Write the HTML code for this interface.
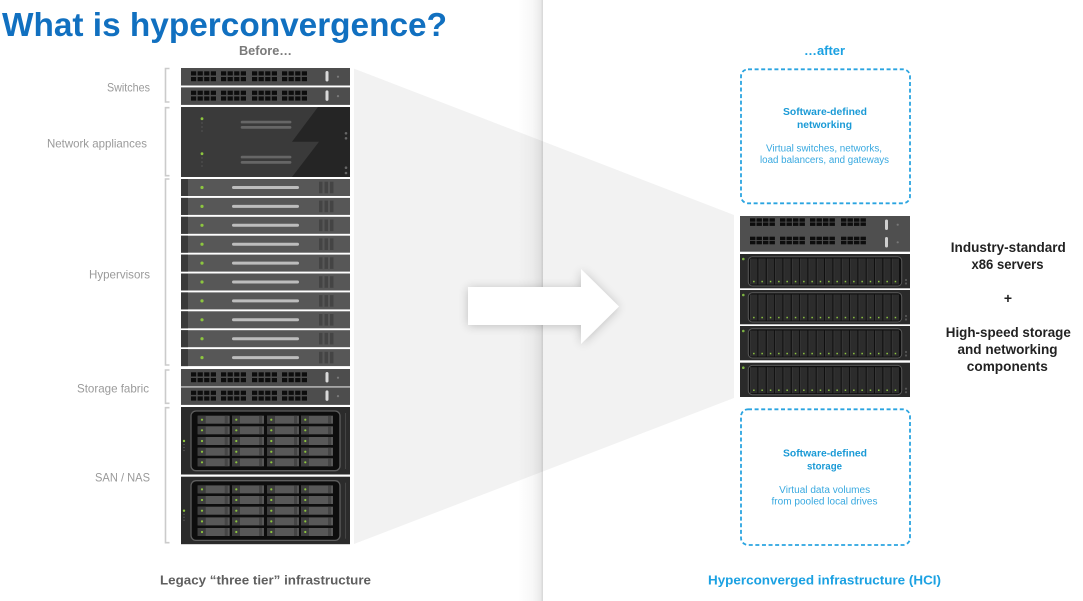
<!DOCTYPE html>
<html><head><meta charset="utf-8"><style>
html,body{margin:0;padding:0;background:#fff;}
body{width:1083px;height:601px;overflow:hidden;}
svg{display:block;font-family:"Liberation Sans",sans-serif;}
</style></head><body>
<svg width="1083" height="601" viewBox="0 0 1083 601" xmlns="http://www.w3.org/2000/svg">
<defs>
 <linearGradient id="sh" x1="0" x2="1" y1="0" y2="0">
  <stop offset="0" stop-color="#000" stop-opacity="0"/>
  <stop offset="0.6" stop-color="#000" stop-opacity="0.03"/>
  <stop offset="1" stop-color="#000" stop-opacity="0.1"/>
 </linearGradient>
 <filter id="ds" x="-30%" y="-30%" width="160%" height="160%">
  <feGaussianBlur in="SourceAlpha" stdDeviation="5"/>
  <feOffset dx="0" dy="1" result="b"/>
  <feComponentTransfer><feFuncA type="linear" slope="0.22"/></feComponentTransfer>
  <feMerge><feMergeNode/><feMergeNode in="SourceGraphic"/></feMerge>
 </filter>
 <g id="pg" fill="#0d0d0d">
  <rect x="0" y="0" width="5.2" height="4.2"/><rect x="6.6" y="0" width="5.2" height="4.2"/><rect x="13.2" y="0" width="5.2" height="4.2"/><rect x="19.8" y="0" width="5.2" height="4.2"/>
  <rect x="0" y="5.7" width="5.2" height="4.2"/><rect x="6.6" y="5.7" width="5.2" height="4.2"/><rect x="13.2" y="5.7" width="5.2" height="4.2"/><rect x="19.8" y="5.7" width="5.2" height="4.2"/>
 </g>
 <g id="pgR" fill="#0d0d0d">
  <rect x="0" y="0" width="5.4" height="3.4"/><rect x="6.5" y="0" width="5.4" height="3.4"/><rect x="13" y="0" width="5.4" height="3.4"/><rect x="19.5" y="0" width="5.4" height="3.4"/>
  <rect x="0" y="4.2" width="5.4" height="3.4"/><rect x="6.5" y="4.2" width="5.4" height="3.4"/><rect x="13" y="4.2" width="5.4" height="3.4"/><rect x="19.5" y="4.2" width="5.4" height="3.4"/>
 </g>
 <g id="swL">
  <rect width="169" height="17.5" fill="#4d4d4d"/>
  <use href="#pg" x="10" y="3.3"/><use href="#pg" x="40" y="3.3"/><use href="#pg" x="71" y="3.3"/><use href="#pg" x="101" y="3.3"/>
  <rect x="144.5" y="3" width="3" height="10.5" rx="1.5" fill="#d9d9d9"/>
  <circle cx="157" cy="8.7" r="1.1" fill="#7a7a7a"/>
 </g>
 <g id="hv">
  <rect width="169" height="17" fill="#575757"/>
  <rect width="7" height="17" fill="#3a3a3a"/>
  <circle cx="21" cy="8.5" r="1.6" fill="#8dc63f"/>
  <rect x="51" y="7" width="67" height="3" rx="1.5" fill="#bdbdbd"/>
  <rect x="138" y="2.7" width="3.5" height="11.6" fill="#444"/>
  <rect x="143.5" y="2.7" width="3.5" height="11.6" fill="#444"/>
  <rect x="149" y="2.7" width="3.5" height="11.6" fill="#444"/>
 </g>
 <g id="bay">
  <rect width="32" height="8" fill="#585858"/>
  <rect width="8" height="8" fill="#3e3e3e"/>
  <circle cx="4.3" cy="4" r="1.1" fill="#8dc63f"/>
  <rect x="27" width="3" height="8" fill="#454545"/>
 </g>
 <g id="san">
  <rect width="169" height="67.5" fill="#2b2b2b"/>
  <rect x="10" y="4" width="149" height="59.7" rx="5" fill="#0d0d0d" stroke="#5e5e5e" stroke-width="1.3"/>
  <circle cx="3" cy="34" r="1.2" fill="#8dc63f"/>
  <circle cx="3" cy="37.5" r="0.6" fill="#666"/><circle cx="3" cy="40.5" r="0.6" fill="#666"/><circle cx="3" cy="43.5" r="0.6" fill="#666"/>
  <rect x="164" y="6" width="1" height="56" fill="#444"/>
  <use href="#bay" x="16.7" y="8.7"/><use href="#bay" x="51" y="8.7"/><use href="#bay" x="86" y="8.7"/><use href="#bay" x="120" y="8.7"/>
  <use href="#bay" x="16.7" y="19.3"/><use href="#bay" x="51" y="19.3"/><use href="#bay" x="86" y="19.3"/><use href="#bay" x="120" y="19.3"/>
  <use href="#bay" x="16.7" y="30"/><use href="#bay" x="51" y="30"/><use href="#bay" x="86" y="30"/><use href="#bay" x="120" y="30"/>
  <use href="#bay" x="16.7" y="40.7"/><use href="#bay" x="51" y="40.7"/><use href="#bay" x="86" y="40.7"/><use href="#bay" x="120" y="40.7"/>
  <use href="#bay" x="16.7" y="51.3"/><use href="#bay" x="51" y="51.3"/><use href="#bay" x="86" y="51.3"/><use href="#bay" x="120" y="51.3"/>
 </g>
 <g id="slot">
  <rect width="7.2" height="26" fill="#2c2c2c"/>
  <rect x="0" y="0" width="0.8" height="26" fill="#3a3a3a"/>
  <rect x="2.9" y="22.3" width="1.5" height="1.5" fill="#8dc63f"/>
 </g>
 <g id="stor">
  <rect width="170" height="34.3" fill="#2a2a2a"/>
  <circle cx="3.3" cy="5" r="1.3" fill="#7cb342"/>
  <rect x="8.3" y="2.7" width="153.4" height="29.3" rx="4" fill="#0f0f0f" stroke="#5a5a5a" stroke-width="1"/>
  <use href="#slot" x="10.2" y="4.5"/><use href="#slot" x="18.5" y="4.5"/><use href="#slot" x="26.9" y="4.5"/><use href="#slot" x="35.2" y="4.5"/>
  <use href="#slot" x="43.5" y="4.5"/><use href="#slot" x="51.9" y="4.5"/><use href="#slot" x="60.2" y="4.5"/><use href="#slot" x="68.5" y="4.5"/>
  <use href="#slot" x="76.8" y="4.5"/><use href="#slot" x="85.2" y="4.5"/><use href="#slot" x="93.5" y="4.5"/><use href="#slot" x="101.8" y="4.5"/>
  <use href="#slot" x="110.2" y="4.5"/><use href="#slot" x="118.5" y="4.5"/><use href="#slot" x="126.8" y="4.5"/><use href="#slot" x="135.1" y="4.5"/>
  <use href="#slot" x="143.5" y="4.5"/><use href="#slot" x="151.8" y="4.5"/>
  <circle cx="166" cy="26" r="1.1" fill="#555"/><circle cx="166" cy="29.5" r="1.1" fill="#555"/>
 </g>
</defs>

<!-- gray trapezoid -->
<polygon points="354,68.6 734,215 734,398 354,544" fill="#f2f2f2"/>

<!-- divider shadow -->
<rect x="518" y="0" width="25" height="601" fill="url(#sh)"/>
<rect x="541.5" y="0" width="1.5" height="601" fill="#000" fill-opacity="0.05"/>

<!-- arrow -->
<polygon points="468,287 581,287 581,269 619,306.5 581,344 581,325 468,325" fill="#fff" filter="url(#ds)"/>

<!-- Title -->
<text x="2" y="36" font-size="33" font-weight="bold" fill="#1170c0" textLength="445" lengthAdjust="spacingAndGlyphs">What is hyperconvergence?</text>
<text x="239" y="55" font-size="12.5" font-weight="bold" fill="#7a7a7a" textLength="53" lengthAdjust="spacingAndGlyphs">Before…</text>
<text x="804" y="55" font-size="12.5" font-weight="bold" fill="#1ba1e2" textLength="41" lengthAdjust="spacingAndGlyphs">…after</text>

<!-- left labels -->
<g font-size="12" fill="#9a9a9a" text-anchor="end">
 <text x="150" y="91.5" textLength="43" lengthAdjust="spacingAndGlyphs">Switches</text>
 <text x="147" y="147.5" textLength="100" lengthAdjust="spacingAndGlyphs">Network appliances</text>
 <text x="150" y="278.5" textLength="61" lengthAdjust="spacingAndGlyphs">Hypervisors</text>
 <text x="149" y="392.5" textLength="72" lengthAdjust="spacingAndGlyphs">Storage fabric</text>
 <text x="150" y="481.5" textLength="55" lengthAdjust="spacingAndGlyphs">SAN / NAS</text>
</g>

<!-- brackets -->
<g fill="none" stroke="#cbcbcb" stroke-width="1.6">
 <path d="M169.5,68.5 H165.5 V102 H169.5"/>
 <path d="M169.5,107.7 H165.5 V175.7 H169.5"/>
 <path d="M169.5,179 H165.5 V365 H169.5"/>
 <path d="M169.5,370 H165.5 V403.3 H169.5"/>
 <path d="M169.5,407.7 H165.5 V542.7 H169.5"/>
</g>

<!-- left rack -->
<use href="#swL" x="181" y="68"/>
<use href="#swL" x="181" y="87.4"/>

<g transform="translate(181,107)">
 <rect width="169" height="70" fill="#3a3a3a"/>
 <polygon points="137,0 169,0 169,70 111,70 138,34.7 111,34.7" fill="#252525"/>
 <rect x="59.7" y="13.7" width="50.7" height="2.7" rx="1.3" fill="#666"/>
 <rect x="59.7" y="19" width="50.7" height="2.7" rx="1.3" fill="#666"/>
 <rect x="59.7" y="48.7" width="50.7" height="2.7" rx="1.3" fill="#666"/>
 <rect x="59.7" y="54" width="50.7" height="2.7" rx="1.3" fill="#666"/>
 <circle cx="21" cy="11.7" r="1.4" fill="#8dc63f"/>
 <circle cx="21" cy="16" r="0.6" fill="#666"/><circle cx="21" cy="20" r="0.6" fill="#666"/><circle cx="21" cy="24" r="0.6" fill="#666"/>
 <circle cx="21" cy="46.7" r="1.4" fill="#8dc63f"/>
 <circle cx="21" cy="51" r="0.6" fill="#666"/><circle cx="21" cy="55" r="0.6" fill="#666"/><circle cx="21" cy="59" r="0.6" fill="#666"/>
 <circle cx="165" cy="26.3" r="1.3" fill="#666"/><circle cx="165" cy="31.3" r="1.3" fill="#666"/>
 <circle cx="165" cy="60.7" r="1.3" fill="#666"/><circle cx="165" cy="66" r="1.3" fill="#666"/>
</g>

<use href="#hv" x="181" y="179"/>
<use href="#hv" x="181" y="197.9"/>
<use href="#hv" x="181" y="216.8"/>
<use href="#hv" x="181" y="235.7"/>
<use href="#hv" x="181" y="254.6"/>
<use href="#hv" x="181" y="273.5"/>
<use href="#hv" x="181" y="292.4"/>
<use href="#hv" x="181" y="311.3"/>
<use href="#hv" x="181" y="330.2"/>
<use href="#hv" x="181" y="349.1"/>

<use href="#swL" x="181" y="369"/>
<use href="#swL" x="181" y="387.4"/>

<use href="#san" x="181" y="407"/>
<use href="#san" x="181" y="476.7"/>

<!-- right: dashed boxes -->
<rect x="741" y="69.3" width="169" height="134" rx="7" fill="none" stroke="#2aa4e0" stroke-width="1.8" stroke-dasharray="4 2.6"/>
<rect x="741" y="409.3" width="169" height="135.7" rx="7" fill="none" stroke="#2aa4e0" stroke-width="1.8" stroke-dasharray="4 2.6"/>

<g text-anchor="middle">
 <text x="825" y="115.2" font-size="10" font-weight="bold" fill="#1a9ad6" textLength="84" lengthAdjust="spacingAndGlyphs">Software-defined</text>
 <text x="824.5" y="128" font-size="10" font-weight="bold" fill="#1a9ad6" textLength="55" lengthAdjust="spacingAndGlyphs">networking</text>
 <text x="824" y="151.5" font-size="10" fill="#39a9e0" textLength="116" lengthAdjust="spacingAndGlyphs">Virtual switches, networks,</text>
 <text x="824.5" y="163" font-size="10" fill="#39a9e0" textLength="129" lengthAdjust="spacingAndGlyphs">load balancers, and gateways</text>

 <text x="825" y="456.5" font-size="10" font-weight="bold" fill="#1a9ad6" textLength="84" lengthAdjust="spacingAndGlyphs">Software-defined</text>
 <text x="824.5" y="469.5" font-size="10" font-weight="bold" fill="#1a9ad6" textLength="35" lengthAdjust="spacingAndGlyphs">storage</text>
 <text x="824.7" y="493" font-size="10" fill="#39a9e0" textLength="91" lengthAdjust="spacingAndGlyphs">Virtual data volumes</text>
 <text x="824.5" y="504.5" font-size="10" fill="#39a9e0" textLength="106" lengthAdjust="spacingAndGlyphs">from pooled local drives</text>
</g>

<!-- right switch -->
<g>
 <rect x="740" y="216" width="170" height="35.7" fill="#4f4f4f"/>
 <use href="#pgR" x="750" y="218.3"/><use href="#pgR" x="780" y="218.3"/><use href="#pgR" x="810" y="218.3"/><use href="#pgR" x="841" y="218.3"/>
 <use href="#pgR" x="750" y="236.7"/><use href="#pgR" x="780" y="236.7"/><use href="#pgR" x="810" y="236.7"/><use href="#pgR" x="841" y="236.7"/>
 <rect x="885" y="219.5" width="3" height="10.5" rx="1.5" fill="#cfcfcf"/>
 <rect x="885" y="237" width="3" height="10.5" rx="1.5" fill="#cfcfcf"/>
 <circle cx="897.7" cy="224.7" r="1.1" fill="#777"/>
 <circle cx="897.7" cy="242.3" r="1.1" fill="#777"/>
</g>

<use href="#stor" x="740" y="254"/>
<use href="#stor" x="740" y="290"/>
<use href="#stor" x="740" y="326"/>
<use href="#stor" x="740" y="362.7"/>

<!-- right text -->
<g text-anchor="middle" font-size="14" font-weight="bold" fill="#222">
 <text x="1008.3" y="252" textLength="115" lengthAdjust="spacingAndGlyphs">Industry-standard</text>
 <text x="1007.5" y="269" textLength="72" lengthAdjust="spacingAndGlyphs">x86 servers</text>
 <text x="1008" y="303">+</text>
 <text x="1008.3" y="337.2" textLength="125" lengthAdjust="spacingAndGlyphs">High-speed storage</text>
 <text x="1007.5" y="354" textLength="100" lengthAdjust="spacingAndGlyphs">and networking</text>
 <text x="1007.3" y="371" textLength="81" lengthAdjust="spacingAndGlyphs">components</text>
</g>

<!-- bottom labels -->
<text x="160" y="584.5" font-size="13" font-weight="bold" fill="#5f5f5f" textLength="211" lengthAdjust="spacingAndGlyphs">Legacy “three tier” infrastructure</text>
<text x="708" y="584.5" font-size="13" font-weight="bold" fill="#1ba1e2" textLength="233" lengthAdjust="spacingAndGlyphs">Hyperconverged infrastructure (HCI)</text>
</svg>
</body></html>
